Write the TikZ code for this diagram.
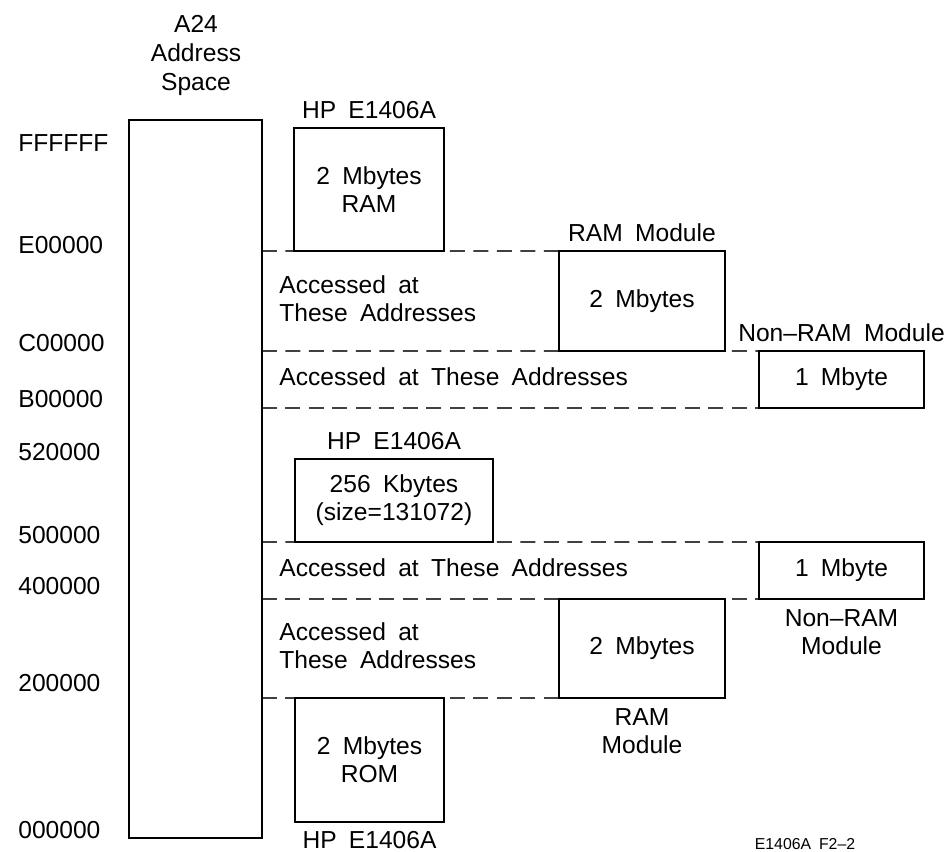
\documentclass[tikz,border=0pt]{standalone}
\usepackage{fontspec}
\setmainfont{Liberation Sans}[WordSpace=1.8]
\usetikzlibrary{backgrounds}

\begin{document}
\begin{tikzpicture}[x=0.02cm, y=-0.02cm,
  every node/.style={font=\fontsize{14}{16}\selectfont, inner sep=0pt},
  membox/.style={draw, line width=1pt, outer sep=0pt, align=center},
  addrline/.style={line width=0.9pt, black!75, dash pattern=on 0.3cm off 0.17cm},
  note/.style={anchor=west, align=left}]
\newcommand{\labelx}{18}
\newcommand{\notex}{279}
\useasboundingbox (0,0) rectangle (951,852);

% A24 address space column
\node[membox, minimum width=2.66cm, minimum height=14.36cm] (space) at (195.5,479) {};
\node[align=center, anchor=north, font=\fontsize{14}{16.5}\selectfont] (spacetitle) at (196,15) {A24\\Address\\Space};

% Addresses down the left side
\foreach \addr/\y in {FFFFFF/143, E00000/245, C00000/343, B00000/399, 520000/452,
                      500000/535, 400000/586, 200000/683, 000000/830} {
  \node[anchor=west] (addr-\addr) at (\labelx,\y) {\addr};
}

% Memory blocks
\node[membox, minimum width=3.0cm, minimum height=2.46cm] (hpram) at (369,189.5) {2 Mbytes\\RAM};
\node[membox, minimum width=3.32cm, minimum height=2.0cm] (rammod) at (642,301) {2 Mbytes};
\node[membox, minimum width=3.3cm, minimum height=1.14cm] (nonram) at (841.5,379.5) {1 Mbyte};
\node[membox, minimum width=3.96cm, minimum height=1.66cm] (hpreg) at (394,500.5) {256 Kbytes\\(size=131072)};
\node[membox, minimum width=3.3cm, minimum height=1.14cm] (nonramb) at (841.5,570.5) {1 Mbyte};
\node[membox, minimum width=3.32cm, minimum height=1.98cm] (rammodb) at (642,648.5) {2 Mbytes};
\node[membox, minimum width=2.98cm, minimum height=2.48cm] (hprom) at (369.5,760) {2 Mbytes\\ROM};

% Block titles
\node[above=0.17cm] (hpramtitle) at (hpram.north) {HP E1406A};
\node[above=0.17cm] (rammodtitle) at (rammod.north) {RAM Module};
\node[above=0.17cm] (nonramtitle) at (nonram.north) {Non--RAM Module};
\node[above=0.17cm] (hpregtitle) at (hpreg.north) {HP E1406A};
\node[below=0.2cm, align=center] (nonrambtitle) at (nonramb.south) {Non--RAM\\Module};
\node[below=0.2cm, align=center] (rammodbtitle) at (rammodb.south) {RAM\\Module};
\node[below=0.18cm] (hpromtitle) at (hprom.south) {HP E1406A};

% Access notes
\node[note] (notea) at (\notex,299) {Accessed at\\These Addresses};
\node[note] (noteb) at (\notex,377) {Accessed at These Addresses};
\node[note] (notec) at (\notex,568) {Accessed at These Addresses};
\node[note] (noted) at (\notex,646) {Accessed at\\These Addresses};

% Dashed address boundaries
\begin{scope}[on background layer]
\draw[addrline] (space.east |- hpram.south) -- (rammod.north west);
\draw[addrline] (space.east |- rammod.south) -- (nonram.north west);
\draw[addrline] (space.east |- nonram.south) -- (nonram.south west);
\draw[addrline] (space.east |- hpreg.south) -- (nonramb.north west);
\draw[addrline] (space.east |- nonramb.south) -- (nonramb.south west);
\draw[addrline] (space.east |- rammodb.south) -- (rammodb.south west);
\end{scope}

\node[font=\fontsize{9}{10}\selectfont] (figref) at (805,844) {E1406A F2--2};

\end{tikzpicture}
\end{document}
